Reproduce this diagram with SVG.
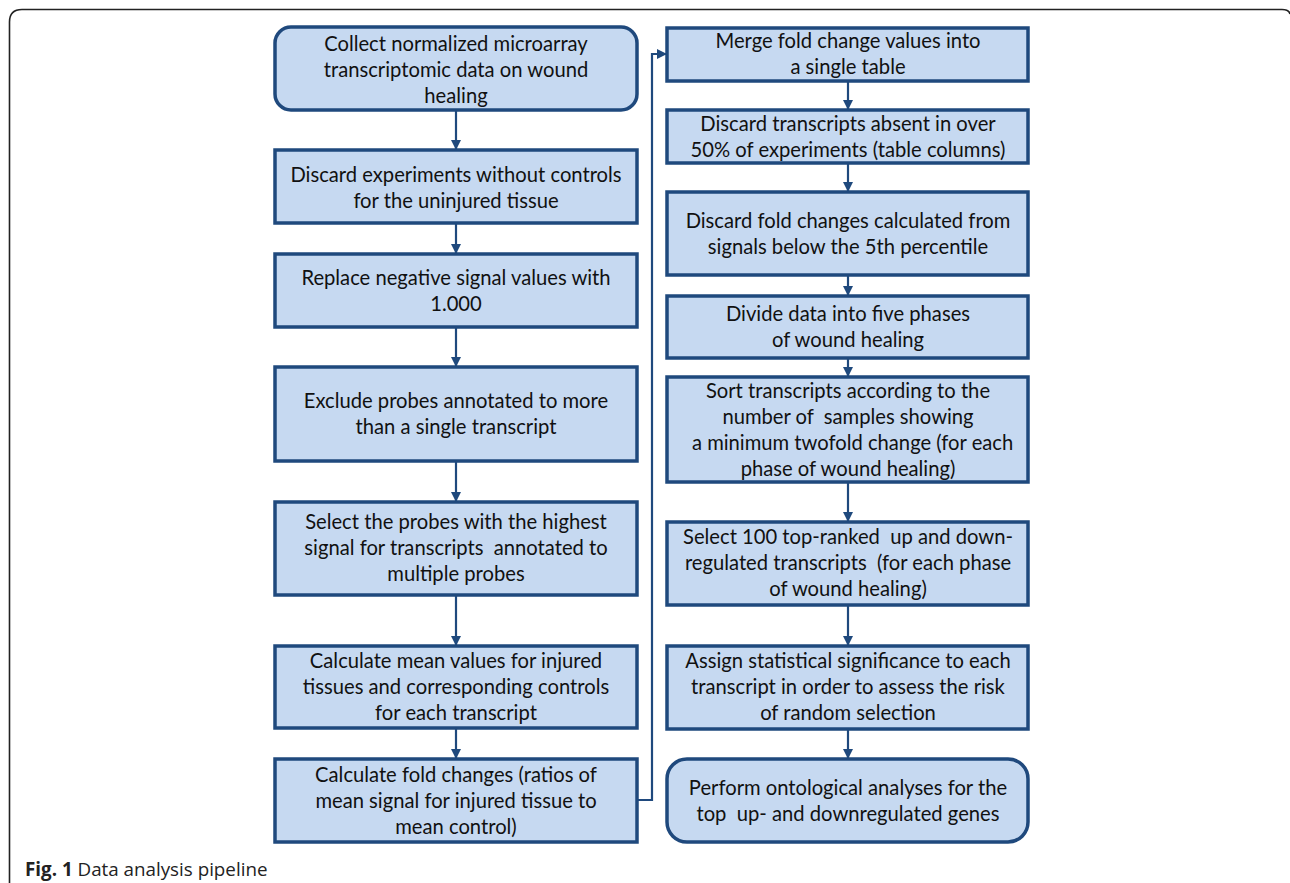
<svg xmlns="http://www.w3.org/2000/svg" width="1290" height="883" viewBox="0 0 1290 883">
<defs>
<marker id="ah" viewBox="0 0 10 10" refX="10" refY="5" markerWidth="10" markerHeight="10" markerUnits="userSpaceOnUse" orient="auto">
<path d="M0,0 L10,5 L0,10 z" fill="#1f497d"/>
</marker>
<style>
.box{fill:#c6d9f1;stroke:#1f497d;stroke-width:3.5}
.t{font-family:Lato,"Liberation Sans",sans-serif;font-size:20.2px;fill:#111;text-anchor:middle;white-space:pre}
.c{fill:none;stroke:#1f497d;stroke-width:2.2}
.cap{font-family:"Open Sans","Liberation Sans",sans-serif;font-size:18.8px;fill:#222}
</style>
</defs>
<path d="M9.5,883 V22 Q9.5,9.5 22,9.5 H1282 Q1289,9.5 1290,14" fill="none" stroke="#222" stroke-width="1.6"/>
<g id="n1"><rect class="box" x="275" y="27" width="362" height="83" rx="16"/>
<text class="t" x="456" y="51">Collect normalized microarray</text>
<text class="t" x="456" y="77">transcriptomic data on wound</text>
<text class="t" x="456" y="103">healing</text></g>
<g id="n2"><rect class="box" x="275" y="150" width="362" height="73"/>
<text class="t" x="456" y="182">Discard experiments without controls</text>
<text class="t" x="456" y="208">for the uninjured tissue</text></g>
<g id="n3"><rect class="box" x="275" y="254" width="362" height="73"/>
<text class="t" x="456" y="285">Replace negative signal values with</text>
<text class="t" x="456" y="311">1.000</text></g>
<g id="n4"><rect class="box" x="275" y="367" width="362" height="94"/>
<text class="t" x="456" y="408">Exclude probes annotated to more</text>
<text class="t" x="456" y="434">than a single transcript</text></g>
<g id="n5"><rect class="box" x="275" y="502" width="362" height="93"/>
<text class="t" x="456" y="529">Select the probes with the highest</text>
<text class="t" x="456" y="555">signal for transcripts  annotated to</text>
<text class="t" x="456" y="581">multiple probes</text></g>
<g id="n6"><rect class="box" x="275" y="646" width="362" height="82"/>
<text class="t" x="456" y="668">Calculate mean values for injured</text>
<text class="t" x="456" y="694">tissues and corresponding controls</text>
<text class="t" x="456" y="720">for each transcript</text></g>
<g id="n7"><rect class="box" x="275" y="759" width="362" height="83"/>
<text class="t" x="456" y="782">Calculate fold changes (ratios of</text>
<text class="t" x="456" y="808">mean signal for injured tissue to</text>
<text class="t" x="456" y="834">mean control)</text></g>
<g id="r1"><rect class="box" x="667" y="28" width="361" height="53"/>
<text class="t" x="848" y="48">Merge fold change values into</text>
<text class="t" x="848" y="74">a single table</text></g>
<g id="r2"><rect class="box" x="667" y="110" width="361" height="53"/>
<text class="t" x="848" y="131">Discard transcripts absent in over</text>
<text class="t" x="848" y="157">50% of experiments (table columns)</text></g>
<g id="r3"><rect class="box" x="667" y="192" width="361" height="83"/>
<text class="t" x="848" y="228">Discard fold changes calculated from</text>
<text class="t" x="848" y="254">signals below the 5th percentile</text></g>
<g id="r4"><rect class="box" x="667" y="296" width="361" height="62"/>
<text class="t" x="848" y="321">Divide data into five phases</text>
<text class="t" x="848" y="347">of wound healing</text></g>
<g id="r5"><rect class="box" x="667" y="377" width="361" height="105"/>
<text class="t" x="848" y="398">Sort transcripts according to the</text>
<text class="t" x="848" y="424">number of  samples showing</text>
<text class="t" x="850" y="450"> a minimum twofold change (for each</text>
<text class="t" x="848" y="476">phase of wound healing)</text></g>
<g id="r6"><rect class="box" x="667" y="522" width="361" height="83"/>
<text class="t" x="848" y="544">Select 100 top-ranked  up and down-</text>
<text class="t" x="848" y="570">regulated transcripts  (for each phase</text>
<text class="t" x="848" y="596">of wound healing)</text></g>
<g id="r7"><rect class="box" x="667" y="646" width="361" height="83"/>
<text class="t" x="848" y="668">Assign statistical significance to each</text>
<text class="t" x="848" y="694">transcript in order to assess the risk</text>
<text class="t" x="848" y="720">of random selection</text></g>
<g id="r8"><rect class="box" x="667" y="759" width="361" height="83" rx="20"/>
<text class="t" x="848" y="795">Perform ontological analyses for the</text>
<text class="t" x="848" y="821">top  up- and downregulated genes</text></g>
<g id="connectors">
<path class="c" d="M456,110 V150" marker-end="url(#ah)"/>
<path class="c" d="M456,223 V254" marker-end="url(#ah)"/>
<path class="c" d="M456,327 V367" marker-end="url(#ah)"/>
<path class="c" d="M456,461 V502" marker-end="url(#ah)"/>
<path class="c" d="M456,595 V646" marker-end="url(#ah)"/>
<path class="c" d="M456,728 V759" marker-end="url(#ah)"/>
<path class="c" d="M637,800 H652 V54 H667" marker-end="url(#ah)"/>
<path class="c" d="M848,81 V110" marker-end="url(#ah)"/>
<path class="c" d="M848,163 V192" marker-end="url(#ah)"/>
<path class="c" d="M848,275 V296" marker-end="url(#ah)"/>
<path class="c" d="M848,358 V377" marker-end="url(#ah)"/>
<path class="c" d="M848,482 V522" marker-end="url(#ah)"/>
<path class="c" d="M848,605 V646" marker-end="url(#ah)"/>
<path class="c" d="M848,729 V759" marker-end="url(#ah)"/>
</g>
<text class="cap" x="25" y="876"><tspan font-weight="bold">Fig. 1</tspan> Data analysis pipeline</text>
</svg>
